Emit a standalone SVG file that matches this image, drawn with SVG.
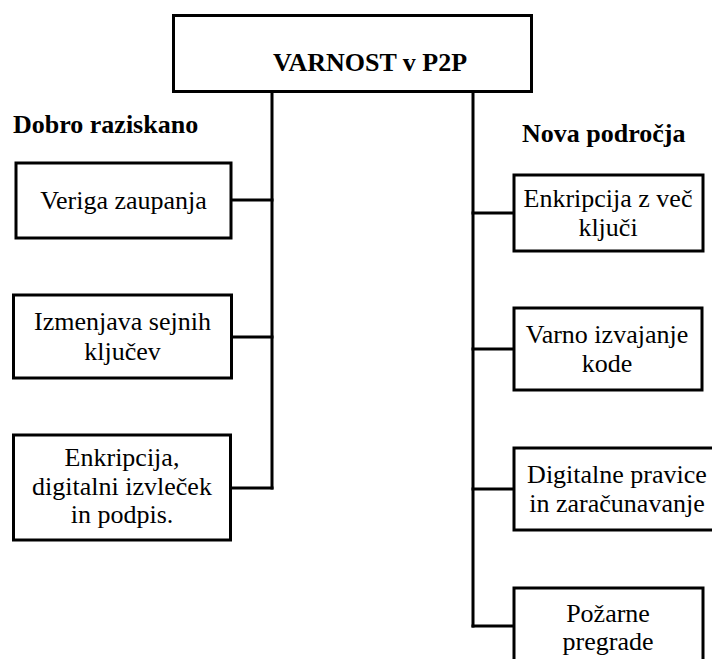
<svg xmlns="http://www.w3.org/2000/svg" width="712" height="659" viewBox="0 0 712 659">
  <style>
    .box { fill: #ffffff; stroke: #000000; stroke-width: 3; }
    .wire { fill: none; stroke: #000000; stroke-width: 3; }
    .label { font-family: 'Liberation Serif', Tinos, 'Times New Roman', Times, 'DejaVu Serif', serif; font-size: 26px; fill: #000000; text-anchor: middle; }
    .head { font-family: 'Liberation Serif', Tinos, 'Times New Roman', Times, 'DejaVu Serif', serif; font-size: 26px; font-weight: bold; fill: #000000; }
  </style>
  <rect width="712" height="659" fill="#ffffff"/>

  <!-- connectors -->
  <g id="connectors">
    <line class="wire" x1="272" y1="92" x2="272" y2="489.5"/>
    <line class="wire" x1="231" y1="200" x2="273.5" y2="200"/>
    <line class="wire" x1="231" y1="337" x2="273.5" y2="337"/>
    <line class="wire" x1="230" y1="488" x2="273.5" y2="488"/>
    <line class="wire" x1="473" y1="92" x2="473" y2="627.5"/>
    <line class="wire" x1="471.5" y1="213" x2="514" y2="213"/>
    <line class="wire" x1="471.5" y1="349" x2="514" y2="349"/>
    <line class="wire" x1="471.5" y1="489" x2="514" y2="489"/>
    <line class="wire" x1="471.5" y1="626" x2="514" y2="626"/>
  </g>

  <!-- root -->
  <g id="root">
    <rect class="box" x="173.5" y="15.5" width="358" height="76"/>
    <text class="head" x="370" y="71" text-anchor="middle">VARNOST v P2P</text>
  </g>

  <!-- group headings -->
  <g id="heading-left">
    <text class="head" x="13" y="133">Dobro raziskano</text>
  </g>
  <g id="heading-right">
    <text class="head" x="522" y="142">Nova področja</text>
  </g>

  <!-- left branch -->
  <g id="veriga">
    <rect class="box" x="16" y="163" width="215" height="75"/>
    <text class="label" x="123.5" y="209">Veriga zaupanja</text>
  </g>
  <g id="izmenjava">
    <rect class="box" x="13.5" y="295" width="218" height="83"/>
    <text class="label" x="122.5" y="330">Izmenjava sejnih</text>
    <text class="label" x="122.5" y="360">ključev</text>
  </g>
  <g id="enkripcija">
    <rect class="box" x="13.5" y="435" width="217" height="105"/>
    <text class="label" x="122" y="466">Enkripcija,</text>
    <text class="label" x="122" y="495">digitalni izvleček</text>
    <text class="label" x="122" y="523">in podpis.</text>
  </g>

  <!-- right branch -->
  <g id="vec-kljuci">
    <rect class="box" x="514" y="175" width="189" height="76"/>
    <text class="label" x="608" y="207">Enkripcija z več</text>
    <text class="label" x="608" y="236">ključi</text>
  </g>
  <g id="izvajanje">
    <rect class="box" x="514" y="308" width="188" height="82"/>
    <text class="label" x="607" y="343">Varno izvajanje</text>
    <text class="label" x="607" y="372">kode</text>
  </g>
  <g id="pravice">
    <rect class="box" x="514" y="448" width="210" height="82"/>
    <text class="label" x="617" y="483">Digitalne pravice</text>
    <text class="label" x="617" y="512">in zaračunavanje</text>
  </g>
  <g id="pregrade">
    <rect class="box" x="514" y="588" width="189" height="80"/>
    <text class="label" x="608" y="622">Požarne</text>
    <text class="label" x="608" y="650">pregrade</text>
  </g>
</svg>
